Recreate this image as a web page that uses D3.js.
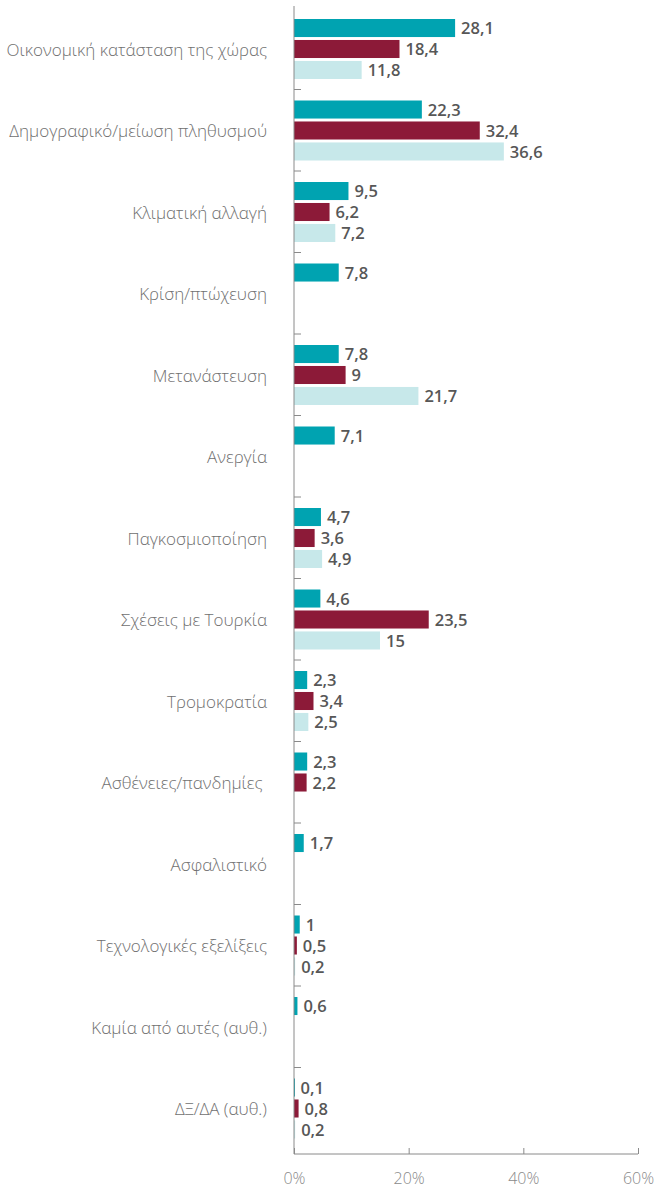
<!DOCTYPE html>
<html>
<head>
<meta charset="utf-8">
<script src="https://cdn.jsdelivr.net/npm/d3@7"></script>
<style>
  body { margin: 0; background: #fff; }
  svg { display: block; font-family: "Open Sans", "Noto Sans", sans-serif; }
</style>
</head>
<body>
<svg id="chart" width="658" height="1189"></svg>
<script>
// data
const categories = [
  'Οικονομική κατάσταση της χώρας',
  'Δημογραφικό/μείωση πληθυσμού',
  'Κλιματική αλλαγή',
  'Κρίση/πτώχευση',
  'Μετανάστευση',
  'Ανεργία',
  'Παγκοσμιοποίηση',
  'Σχέσεις με Τουρκία',
  'Τρομοκρατία',
  'Ασθένειες/πανδημίες ',
  'Ασφαλιστικό',
  'Τεχνολογικές εξελίξεις',
  'Καμία από αυτές (αυθ.)',
  'ΔΞ/ΔΑ (αυθ.)'
];
const series1 = [28.1, 22.3, 9.5, 7.8, 7.8, 7.1, 4.7, 4.6, 2.3, 2.3, 1.7, 1, 0.6, 0.1];
const series2 = [18.4, 32.4, 6.2, null, 9, null, 3.6, 23.5, 3.4, 2.2, null, 0.5, null, 0.8];
const series3 = [11.8, 36.6, 7.2, null, 21.7, null, 4.9, 15, 2.5, null, null, 0.2, null, 0.2];
const xTicks = [0, 20, 40, 60];
const colors = ['#00a3b1', '#8c1a38', '#c7e8ea'];

const svg = d3.select('#chart');
const axisColor = '#8a8a8a';
const axisBottomY = 1154;

const x = d3.scaleLinear().domain([0, 60]).range([294, 638]);
const y = d3.scaleBand().domain(categories).range([8, 1149]);
const inner = d3.scaleBand().domain([0, 1, 2]).range([11, 71]).paddingInner(0.14);

const allSeries = [series1, series2, series3];

// bars + value labels
categories.forEach((cat, i) => {
  const g = svg.append('g').attr('transform', `translate(0,${y(cat)})`);
  allSeries.forEach((s, k) => {
    const v = s[i];
    if (v === null) return;
    g.append('rect')
      .attr('x', x(0))
      .attr('y', inner(k))
      .attr('width', Math.max(x(v) - x(0), 1))
      .attr('height', inner.bandwidth())
      .attr('fill', colors[k]);
    g.append('text')
      .attr('x', x(v) + 6)
      .attr('y', inner(k) + inner.bandwidth() / 2)
      .attr('dy', '0.37em')
      .attr('fill', '#575757')
      .attr('font-size', 16.5)
      .attr('font-weight', 600)
      .text(String(v).replace('.', ','));
  });
  // category label
  svg.append('text')
    .attr('x', 267)
    .attr('y', y(cat) + y.bandwidth() / 2)
    .attr('dy', '0.4em')
    .attr('text-anchor', 'end')
    .attr('fill', '#707070')
    .attr('font-size', 17)
    .attr('font-weight', 300)
    .style('white-space', 'pre')
    .text(cat);
});

// left axis line, ticks between categories
svg.append('line')
  .attr('x1', x(0)).attr('x2', x(0))
  .attr('y1', 6).attr('y2', axisBottomY)
  .attr('stroke', axisColor);
categories.slice(1).forEach(cat => {
  svg.append('line')
    .attr('x1', x(0)).attr('x2', x(0) + 7)
    .attr('y1', y(cat)).attr('y2', y(cat))
    .attr('stroke', axisColor);
});

// bottom axis
const xAxis = svg.append('g')
  .attr('transform', `translate(0,${axisBottomY})`)
  .call(d3.axisBottom(x).tickValues(xTicks).tickSize(-6).tickPadding(19).tickFormat(d => d + '%'));
xAxis.select('.domain').attr('stroke', axisColor).attr('d', `M${x(0)},0H${x(60)}`);
xAxis.selectAll('.tick line').attr('stroke', axisColor);
xAxis.selectAll('.tick text')
  .attr('fill', '#8a8a8a')
  .attr('font-size', 16)
  .attr('font-weight', 300)
  .attr('font-family', '"Open Sans", "Noto Sans", sans-serif');
</script>
</body>
</html>
